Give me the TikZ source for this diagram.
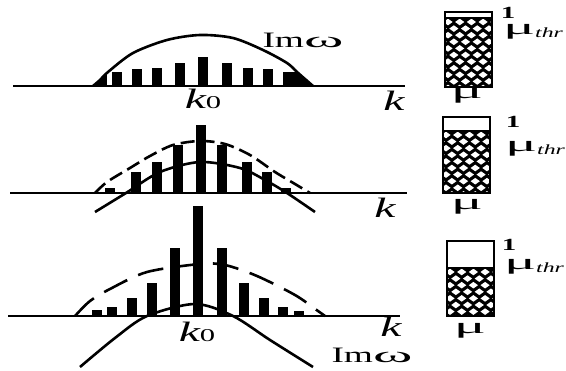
\documentclass[tikz,border=0pt]{standalone}
\usepackage{fontspec}
\setmainfont{Liberation Serif}
\newfontfamily\wideserif[FakeStretch=1.7]{Liberation Serif}
\usepackage{graphicx}
\usepackage{tikz}
\usetikzlibrary{positioning}
\newcommand{\wideomega}{\scalebox{1.6}[1]{ω}}
\newcommand{\widemu}{\scalebox{1.6}[1]{μ}}

\begin{document}
\begin{tikzpicture}[x=1pt, y=-1pt,
  axis/.style={line width=1.8pt},
  bar/.style={fill=black},
  rate/.style={line width=2.6pt, line join=round},
  oldrate/.style={rate, dash pattern=on 14pt off 6pt},
  meter/.style={draw=black, line width=2pt},
  lab/.style={inner sep=0pt, font=\wideserif\fontsize{22}{22}\selectfont},
  wavenum/.style={inner sep=0pt, font=\wideserif\itshape\fontsize{28}{28}\selectfont},
  tick/.style={inner sep=0pt, font=\wideserif\bfseries\fontsize{17}{17}\selectfont},
  mulab/.style={inner sep=0pt, font=\wideserif\fontsize{22}{22}\selectfont}
]
\useasboundingbox (0,0) rectangle (566,371);

% upper spectrum
\coordinate (a1) at (13,86);
\coordinate (b1) at (405,86);
\draw[axis] (a1) -- (b1);
\foreach \x/\t in {117/72,137/69,157/68,180/63,203/57,227/63,248/68,268/69,288/72}
  \fill[bar] (\x-5,86) rectangle (\x+5,\t);
\begin{scope}
  \clip plot[smooth] coordinates {(93,86) (100,80) (108,72) (133,53) (167,40) (200,35) (233,38) (263,50) (287,63) (297,72) (313,86)} -- cycle;
  \fill[bar] (90,72) rectangle (107,87);
  \fill[bar] (293,72) rectangle (316,87);
\end{scope}
\draw[rate] plot[smooth] coordinates {(93,86) (100,80) (108,72) (133,53) (167,40) (200,35) (233,38) (263,50) (287,63) (297,72) (313,86)};
\node[lab] (im1) at (303,40) {Im\wideomega};
\node[wavenum] (k01) at (203,99) {k{\upshape\fontsize{18}{18}\selectfont 0}};
\node[wavenum] (k1) at (394,101) {k};

% middle spectrum
\coordinate (a2) at (10,193);
\coordinate (b2) at (407,193);
\draw[axis] (a2) -- (b2);
\foreach \x/\t in {110/188,136/172,157/162,178/145,201/125,222/145,247/162,267/172,286/188}
  \fill[bar] (\x-5,193) rectangle (\x+5,\t);
\draw[rate] plot[smooth] coordinates {(95,212) (126,193) (160,172) (200,162) (240,168) (265,180) (287,193) (315,212)};
\draw[oldrate] plot[smooth] coordinates {(95,193) (107,182) (130,168) (150,156) (173,145) (200,141) (225,144) (250,155) (275,172) (295,184) (310,193)};
\node[wavenum] (k2) at (385,208) {k};

% lower spectrum
\coordinate (a3) at (8,316);
\coordinate (b3) at (400,316);
\draw[axis] (a3) -- (b3);
\foreach \x/\t in {97/310,112/307,132/298,152/283,175/248,198/206,222/248,244/283,264/298,283/307,299/311}
  \fill[bar] (\x-5,316) rectangle (\x+5,\t);
\draw[rate] plot[smooth] coordinates {(80,367) (115,338) (147,316) (195,304) (233,316) (270,340) (313,367)};
\draw[oldrate, dash pattern=on 26pt off 12pt] plot[smooth] coordinates {(75,316) (90,301) (110,289) (147,272) (200,264) (225,265) (257,276) (295,295) (318,311) (325,316)};
\node[wavenum] (k03) at (197,332) {k{\upshape\fontsize{18}{18}\selectfont 0}};
\node[wavenum] (k3) at (391,327) {k};
\node[lab] (im3) at (372,355) {Im\wideomega};

% threshold meters
\foreach \xa/\ya/\yf/\yb in {445/12/18/87, 443/117/131/193, 447/241/268/316} {
  \begin{scope}
    \clip (\xa,\yf) rectangle (\xa+47,\yb);
    \fill[black] (\xa,\yf) rectangle (\xa+47,\yb);
    \foreach \r in {0,...,11}
      \foreach \c in {-1,...,4}
        \fill[white] ({\xa+3+\c*11.7+mod(\r,2)*5.85},{\yf+4+\r*6.6}) +(-4.6,0) -- +(0,-3.3) -- +(4.6,0) -- +(0,3.3) -- cycle;
  \end{scope}
  \draw[meter] (\xa,\yf) -- (\xa+47,\yf);
  \draw[meter] (\xa,\ya) rectangle (\xa+47,\yb);
}
\node[tick] (one1) at (508,13) {1};
\node[mulab] (thr1) at (533,32) {\widemu\raisebox{-3pt}{\itshape\fontsize{14}{14}\selectfont thr}};
\node[mulab] (mu1) at (467,96) {\widemu};
\node[tick] (one2) at (513,122) {1};
\node[mulab] (thr2) at (535,149) {\widemu\raisebox{-3pt}{\itshape\fontsize{14}{14}\selectfont thr}};
\node[mulab] (mu2) at (467,207) {\widemu};
\node[tick] (one3) at (509,245) {1};
\node[mulab] (thr3) at (534,267) {\widemu\raisebox{-3pt}{\itshape\fontsize{14}{14}\selectfont thr}};
\node[mulab] (mu3) at (470,331) {\widemu};
\end{tikzpicture}
\end{document}
